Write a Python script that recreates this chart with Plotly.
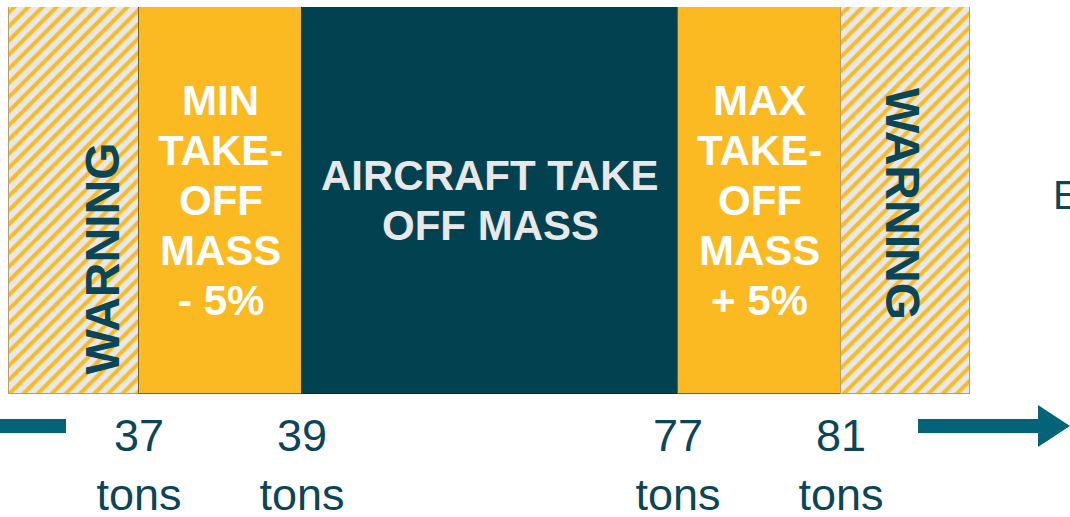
import numpy as np
import plotly.graph_objects as go

# Segments of the take-off mass scale (widths in diagram units)
segments = ["WARNING", "MIN<br>TAKE-<br>OFF<br>MASS<br>- 5%", "AIRCRAFT TAKE<br>OFF MASS",
            "MAX<br>TAKE-<br>OFF<br>MASS<br>+ 5%", "WARNING"]
widths = [130, 163, 376, 163, 129]
kinds = ["warn", "limit", "core", "limit", "warn"]

# Boundary labels
masses = [37, 39, 77, 81]
unit = "tons"

YELLOW = "#FBBA22"
DARK = "#02414F"
TEAL_TXT = "#0B4658"
ARROW = "#046379"
GREY = "#E8E8E8"
FONT = "Liberation Sans, Arial, sans-serif"

edges = np.cumsum(widths)
starts = edges - np.array(widths)
centers = starts + np.array(widths) / 2

fig = go.Figure()
for i, (w, k) in enumerate(zip(widths, kinds)):
    if k == "warn":
        marker = dict(color=GREY, line=dict(color="#B59E6A", width=1.5),
                      pattern=dict(shape="/", fgcolor=YELLOW, bgcolor=GREY,
                                   size=10, solidity=0.4, fillmode="replace"))
    elif k == "limit":
        marker = dict(color=YELLOW, line=dict(color="#7F6010", width=1.5))
    else:
        marker = dict(color=DARK, line=dict(color="#01303B", width=1.5))
    fig.add_trace(go.Bar(x=[w], y=[0], orientation="h", width=1, marker=marker,
                         showlegend=False, hoverinfo="skip"))

# Labels inside the segments, one annotation per line to keep a tight leading
for i, (txt, k) in enumerate(zip(segments, kinds)):
    if k == "warn":
        continue
    lines = txt.split("<br>")
    n = len(lines)
    color = "white" if k == "limit" else GREY
    for j, ln in enumerate(lines):
        fig.add_annotation(x=centers[i], y=0, text="<b>%s</b>" % ln, showarrow=False,
                           yshift=((n - 1) / 2 - j) * 50,
                           font=dict(family=FONT, size=42, color=color))

# Rotated WARNING labels
fig.add_annotation(x=centers[0], y=0, text="<b>WARNING</b>", showarrow=False,
                   textangle=-90, xshift=28, yshift=-58,
                   font=dict(family=FONT, size=48, color=TEAL_TXT))
fig.add_annotation(x=centers[4], y=0, text="<b>WARNING</b>", showarrow=False,
                   textangle=90, xshift=-3, yshift=-3,
                   font=dict(family=FONT, size=48, color=TEAL_TXT))

# Cut-off text at the right edge
fig.add_annotation(xref="paper", yref="paper", x=(1055) / 1070, y=(394 - 195) / 387,
                   xanchor="left", xshift=-4, text="E", showarrow=False,
                   font=dict(family=FONT, size=40, color=TEAL_TXT))

# Axis arrow pieces (paper coordinates, below the plot area)
def py(pix):
    return (394 - pix) / 387

fig.add_shape(type="rect", xref="paper", yref="paper", x0=0, x1=66 / 1070,
              y0=py(433), y1=py(419), fillcolor=ARROW, line=dict(width=0))
fig.add_shape(type="path", xref="paper", yref="paper",
              path="M %f,%f L %f,%f L %f,%f L %f,%f L %f,%f L %f,%f L %f,%f Z" % (
                  918 / 1070, py(419), 1038 / 1070, py(419), 1038 / 1070, py(405),
                  1070 / 1070, py(426), 1038 / 1070, py(447), 1038 / 1070, py(433),
                  918 / 1070, py(433)),
              fillcolor=ARROW, line=dict(width=0))

fig.update_layout(
    width=1070, height=517,
    margin=dict(l=0, r=0, t=7, b=123, autoexpand=False),
    barmode="stack", bargap=0,
    plot_bgcolor="white", paper_bgcolor="white",
    xaxis=dict(range=[-9, 1061], showgrid=False, zeroline=False, showline=False,
               tickvals=list(edges[:-1]),
               ticktext=["%d<br>%s" % (m, unit) for m in masses],
               tickfont=dict(family=FONT, size=45, color=TEAL_TXT),
               ticks="", ticklabelstandoff=11, automargin=False, fixedrange=True),
    yaxis=dict(range=[-0.5, 0.5], visible=False, fixedrange=True),
)

# drop the default page margin so the figure sits at the window's corner
fig.write_html("out.html", config={"displayModeBar": False},
               post_script="document.body.style.margin='0';document.body.style.overflow='hidden';")
